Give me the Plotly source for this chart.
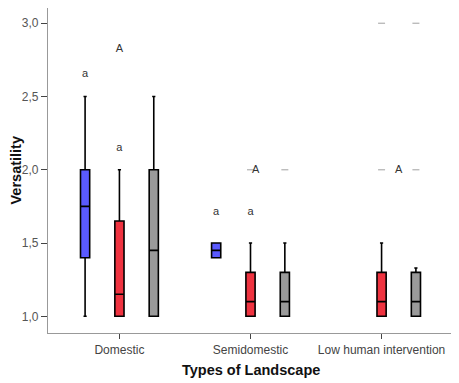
import plotly.graph_objects as go

categories = ["Domestic", "Semidomestic", "Low human intervention"]

# Box statistics per series (index into categories)
blue_idx = [0, 1]
blue_q1 = [1.40, 1.40]
blue_med = [1.75, 1.45]
blue_q3 = [2.00, 1.50]
blue_lo = [1.00, 1.40]
blue_hi = [2.50, 1.50]

red_idx = [0, 1, 2]
red_q1 = [1.00, 1.00, 1.00]
red_med = [1.15, 1.10, 1.10]
red_q3 = [1.65, 1.30, 1.30]
red_lo = [1.00, 1.00, 1.00]
red_hi = [2.00, 1.50, 1.50]

gray_idx = [0, 1, 2]
gray_q1 = [1.00, 1.00, 1.00]
gray_med = [1.45, 1.10, 1.10]
gray_q3 = [2.00, 1.30, 1.30]
gray_lo = [1.00, 1.00, 1.00]
gray_hi = [2.50, 1.50, 1.33]

# Outlier symbols: category index, series, value, label
out_text_cat = [0, 0, 0, 1, 1, 1, 2]
out_text_ser = ["blue", "red", "red", "blue", "red", "redA", "mid"]
out_text_val = [2.65, 2.82, 2.15, 1.71, 1.71, 2.00, 2.00]
out_text_lab = ["a", "A", "a", "a", "a", "A", "A"]

# Gray dash outliers
dash_cat = [1, 1, 2, 2, 2, 2]
dash_ser = ["red", "gray", "red", "gray", "red", "gray"]
dash_val = [2.0, 2.0, 3.0, 3.0, 2.0, 2.0]

OFF = {"blue": -0.262, "red": 0.0, "gray": 0.262, "mid": 0.131, "redA": 0.04}
COL = {"blue": "#5a5aff", "red": "#ef3340", "gray": "#9a9a9a"}

fig = go.Figure()

def add_box(name, idx, q1, med, q3, lo, hi):
    fig.add_trace(go.Box(
        x=[i + OFF[name] for i in idx],
        q1=q1, median=med, q3=q3, lowerfence=lo, upperfence=hi,
        width=0.07, whiskerwidth=0.35,
        fillcolor=COL[name],
        line=dict(color="black", width=1.6),
        showlegend=False, hoverinfo="skip",
    ))

add_box("blue", blue_idx, blue_q1, blue_med, blue_q3, blue_lo, blue_hi)
add_box("red", red_idx, red_q1, red_med, red_q3, red_lo, red_hi)
add_box("gray", gray_idx, gray_q1, gray_med, gray_q3, gray_lo, gray_hi)

fig.add_trace(go.Scatter(
    x=[c + OFF[s] for c, s in zip(dash_cat, dash_ser)],
    y=dash_val, mode="markers",
    marker=dict(symbol="line-ew", size=5, line=dict(color="#b0b0b0", width=1.2)),
    showlegend=False, hoverinfo="skip",
))

fig.add_trace(go.Scatter(
    x=[c + OFF[s] for c, s in zip(out_text_cat, out_text_ser)],
    y=out_text_val, mode="text", text=out_text_lab,
    textfont=dict(family="Liberation Sans, Arial, sans-serif", size=11, color="#333333"),
    textposition="middle center",
    showlegend=False, hoverinfo="skip",
))

fig.update_layout(
    width=451, height=375,
    margin=dict(l=40, r=6, t=0, b=50),
    paper_bgcolor="white", plot_bgcolor="white",
    separators=",.",
    font=dict(family="Liberation Sans, Arial, sans-serif", size=12, color="#555555"),
    xaxis=dict(
        range=[-0.545, 2.545], tickmode="array", tickvals=[0, 1, 2], ticktext=categories,
        showline=True, linecolor="#999999", linewidth=1.2,
        ticks="outside", ticklen=5, tickcolor="#444444", tickwidth=1.2,
        showgrid=False, zeroline=False, tickfont=dict(size=12, color="#444444"),
    ),
    yaxis=dict(
        range=[0.886, 3.104], tickmode="array", tickvals=[1.0, 1.5, 2.0, 2.5, 3.0],
        tickformat=".1f",
        showline=True, linecolor="#999999", linewidth=1.2,
        ticks="outside", ticklen=6, tickcolor="#444444", tickwidth=1.2,
        showgrid=False, zeroline=False, tickfont=dict(size=12, color="#555555"),
    ),
    annotations=[
        dict(text="<b>Types of Landscape</b>", xref="paper", yref="paper", x=0.5, y=0,
             xanchor="center", yanchor="middle", yshift=-37, showarrow=False,
             font=dict(size=14.5, color="#111111")),
        dict(text="<b>Versatility</b>", xref="paper", yref="paper", x=0, y=0.5,
             xanchor="center", yanchor="middle", xshift=-33, textangle=-90, showarrow=False,
             font=dict(size=14.5, color="#111111")),
    ],
)

fig.write_html("out.html")
